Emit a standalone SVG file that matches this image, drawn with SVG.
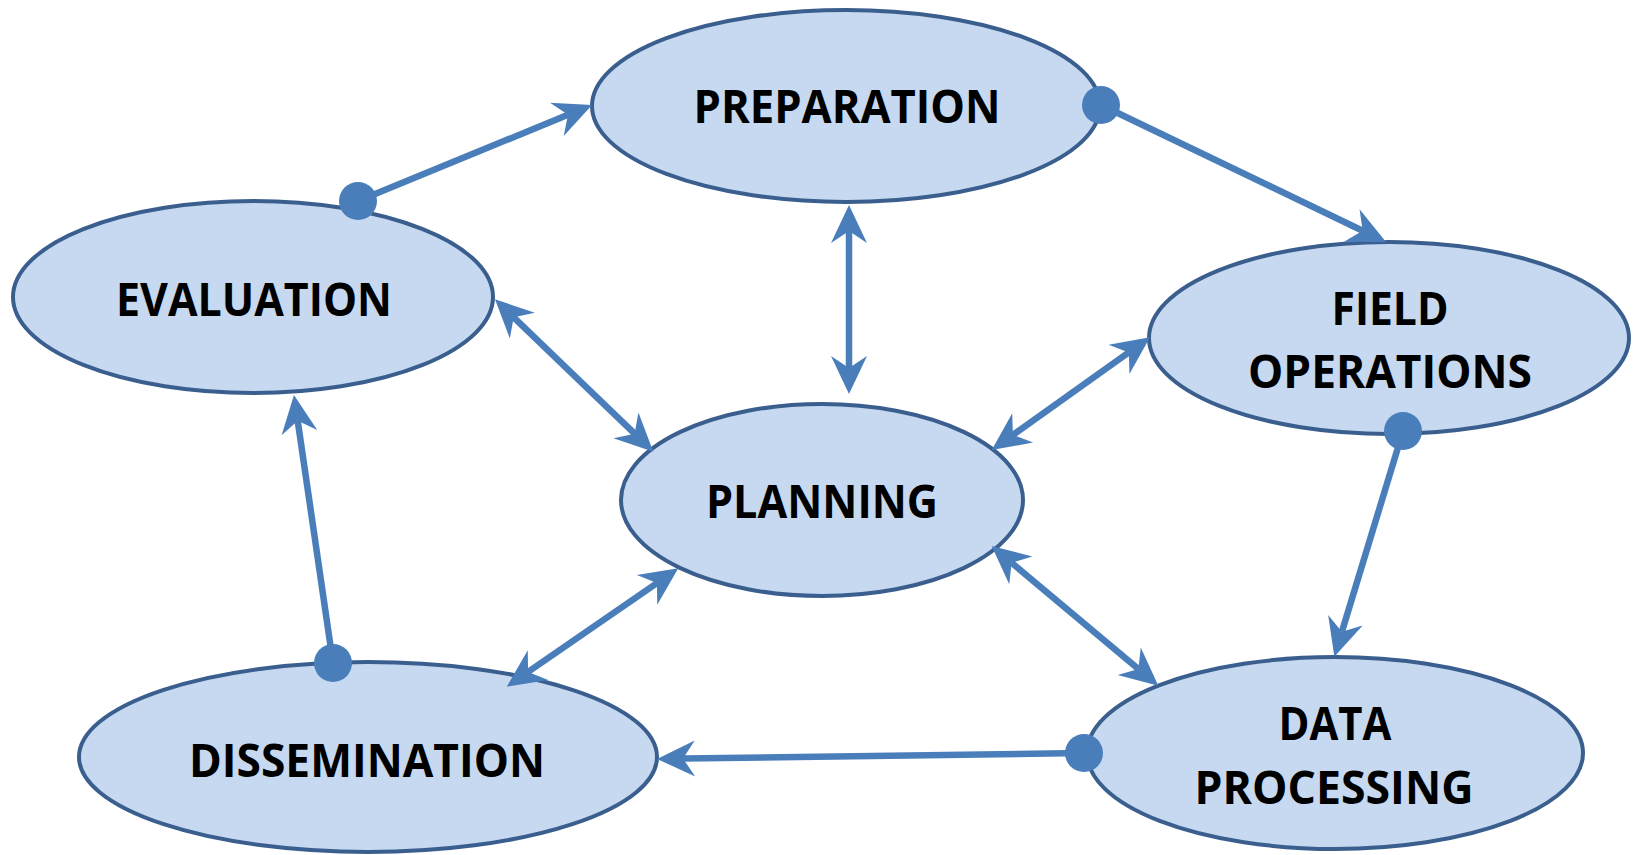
<svg xmlns="http://www.w3.org/2000/svg" width="1634" height="855" viewBox="0 0 1634 855">
<style>
.node ellipse{fill:#C6D9F1;stroke:#3A5F8E;stroke-width:4}
.node text{font-family:"Open Sans","Liberation Sans",sans-serif;font-weight:700;font-size:47px;fill:#000;text-anchor:middle}
.conn line{stroke:#4A7EBB;stroke-width:6.5;fill:none}
.conn .one{marker-end:url(#ah)}
.conn .two{marker-start:url(#ah);marker-end:url(#ah)}
.conn circle{fill:#4A7EBB}
</style>
<defs>
<marker id="ah" markerUnits="userSpaceOnUse" markerWidth="44" markerHeight="44" viewBox="0 -22 44 44" refX="12" refY="0" orient="auto-start-reverse" overflow="visible">
<path d="M38,0 L0,-18 L12,0 L0,18 Z" fill="#4A7EBB"/>
</marker>
</defs>
<rect width="1634" height="855" fill="#fff"/>
<g id="n-preparation" class="node">
<ellipse cx="846" cy="106" rx="254" ry="96"/>
<text x="847" y="123" textLength="307" lengthAdjust="spacingAndGlyphs">PREPARATION</text>
</g>
<g id="n-evaluation" class="node">
<ellipse cx="253" cy="297" rx="240" ry="96"/>
<text x="254" y="316" textLength="276" lengthAdjust="spacingAndGlyphs">EVALUATION</text>
</g>
<g id="n-field" class="node">
<ellipse cx="1389" cy="338" rx="240" ry="96"/>
<text x="1390" y="325" textLength="117" lengthAdjust="spacingAndGlyphs">FIELD</text>
<text x="1390" y="388" textLength="284" lengthAdjust="spacingAndGlyphs">OPERATIONS</text>
</g>
<g id="n-planning" class="node">
<ellipse cx="822" cy="500" rx="201" ry="96"/>
<text x="822" y="518" textLength="232" lengthAdjust="spacingAndGlyphs">PLANNING</text>
</g>
<g id="n-dissemination" class="node">
<ellipse cx="368" cy="757" rx="289" ry="95"/>
<text x="367" y="777" textLength="356" lengthAdjust="spacingAndGlyphs">DISSEMINATION</text>
</g>
<g id="n-data" class="node">
<ellipse cx="1335" cy="753" rx="248" ry="96"/>
<text x="1335" y="740" textLength="113" lengthAdjust="spacingAndGlyphs">DATA</text>
<text x="1334" y="804" textLength="279" lengthAdjust="spacingAndGlyphs">PROCESSING</text>
</g>
<g id="connectors" class="conn">
<line class="one" x1="358" y1="201" x2="568" y2="114.8"/>
<line class="one" x1="1101" y1="105" x2="1362.6" y2="230.7"/>
<line class="one" x1="1403" y1="431" x2="1341.9" y2="631.8"/>
<line class="one" x1="1084" y1="753" x2="683" y2="758.6"/>
<line class="one" x1="333" y1="663" x2="297.7" y2="420.7"/>
<line class="two" x1="849" y1="231" x2="849" y2="368"/>
<line class="two" x1="513.7" y1="317.3" x2="634.6" y2="433.7"/>
<line class="two" x1="1128.8" y1="352.4" x2="1012.9" y2="434.9"/>
<line class="two" x1="1011.6" y1="562.7" x2="1138.4" y2="669"/>
<line class="two" x1="656.9" y1="583.1" x2="528.1" y2="671.9"/>
<circle cx="358" cy="201" r="19"/>
<circle cx="1101" cy="105" r="19"/>
<circle cx="1403" cy="431" r="19"/>
<circle cx="1084" cy="753" r="19"/>
<circle cx="333" cy="663" r="19"/>
</g>
</svg>
